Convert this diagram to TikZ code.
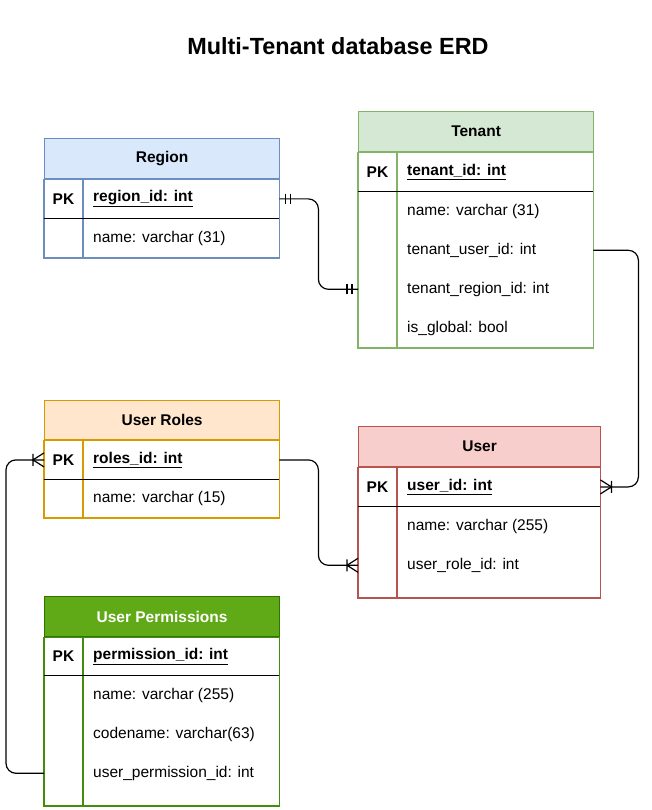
\documentclass[tikz,border=0pt]{standalone}
\usepackage{fontspec}
\setmainfont{Liberation Sans}
\usetikzlibrary{positioning,calc}
\definecolor{regionfill}{HTML}{DAE8FC}
\definecolor{regionline}{HTML}{6C8EBF}
\definecolor{tenantfill}{HTML}{D5E8D4}
\definecolor{tenantline}{HTML}{82B366}
\definecolor{rolesfill}{HTML}{FFE6CC}
\definecolor{rolesline}{HTML}{D79B00}
\definecolor{userfill}{HTML}{F8CECC}
\definecolor{userline}{HTML}{B85450}
\definecolor{permfill}{HTML}{60A917}
\definecolor{permline}{HTML}{2D7600}
\newcommand\erdfont{\fontsize{15.5}{18}\selectfont}

\tikzset{
    tablehead/.style={draw, line width=1.2pt, minimum width=235pt, minimum height=40pt,
        inner sep=0pt, anchor=north west, font=\erdfont\bfseries},
    tablerow/.style={minimum width=235pt, minimum height=39pt, inner sep=0pt, anchor=north west},
    pklabel/.style={font=\erdfont\bfseries},
    keytext/.style={font=\erdfont\bfseries, inner xsep=0pt},
    fieldtext/.style={font=\erdfont, inner xsep=0pt},
    frame/.style={line width=1.2pt},
    link/.style={line width=1.2pt, rounded corners=10pt},
    pics/mandone/.style={code={\draw[line width=1.2pt] (6,-5) -- (6,5) (11,-5) -- (11,5);}},
    pics/onemany/.style={code={\draw[line width=1.2pt] (0,-7) -- (11,0) -- (0,7) (11,-6) -- (11,6);}},
}

\begin{document}
\begin{tikzpicture}[x=1pt, y=-1pt]
    \useasboundingbox[fill=white] (0,0) rectangle (652,810);

    % Title
    \node[font=\fontsize{23.4}{28}\selectfont\bfseries] (title) at (338,46) {Multi-Tenant database ERD};

    % Region table
    \node[tablehead, fill=regionfill, draw=regionline] (region) at (44,138) {Region};
    \node[tablerow, below right=0pt of region.south west] (region-pk) {};
    \foreach \fld [count=\i] in {name: varchar (31)} {
        \node[tablerow] (region-f\i) at ($(region-pk.south west)+(0,{(\i-1)*39})$) {};
        \node[fieldtext, right=49pt of region-f\i.west] {\fld};
    }
    \draw[frame, regionline] (region-pk.north west) rectangle (region-f1.south east);
    \draw[frame, regionline] ([xshift=39pt]region-pk.north west) -- ([xshift=39pt]region-f1.south west);
    \draw[frame] (region-pk.south west) -- (region-pk.south east);
    \node[pklabel] at ([xshift=19.5pt]region-pk.west) {PK};
    \node[keytext, right=49pt of region-pk.west] {\underline{region\_id: int}};

    % Tenant table
    \node[tablehead, fill=tenantfill, draw=tenantline] (tenant) at (358,111) {Tenant};
    \node[tablerow, below right=0pt of tenant.south west] (tenant-pk) {};
    \foreach \fld [count=\i] in {name: varchar (31), tenant\_user\_id: int,
                                 tenant\_region\_id: int, is\_global: bool} {
        \node[tablerow] (tenant-f\i) at ($(tenant-pk.south west)+(0,{(\i-1)*39})$) {};
        \node[fieldtext, right=49pt of tenant-f\i.west] {\fld};
    }
    \draw[frame, tenantline] (tenant-pk.north west) rectangle (tenant-f4.south east);
    \draw[frame, tenantline] ([xshift=39pt]tenant-pk.north west) -- ([xshift=39pt]tenant-f4.south west);
    \draw[frame] (tenant-pk.south west) -- (tenant-pk.south east);
    \node[pklabel] at ([xshift=19.5pt]tenant-pk.west) {PK};
    \node[keytext, right=49pt of tenant-pk.west] {\underline{tenant\_id: int}};

    % User Roles table
    \node[tablehead, fill=rolesfill, draw=rolesline, minimum height=39pt] (roles) at (44,400) {User Roles};
    \node[tablerow, below right=0pt of roles.south west] (roles-pk) {};
    \foreach \fld [count=\i] in {name: varchar (15)} {
        \node[tablerow, minimum height=38pt] (roles-f\i) at ($(roles-pk.south west)+(0,{(\i-1)*39})$) {};
        \node[fieldtext, right=49pt of roles-f\i.west] {\fld};
    }
    \draw[frame, rolesline] (roles-pk.north west) rectangle (roles-f1.south east);
    \draw[frame, rolesline] ([xshift=39pt]roles-pk.north west) -- ([xshift=39pt]roles-f1.south west);
    \draw[frame] (roles-pk.south west) -- (roles-pk.south east);
    \node[pklabel] at ([xshift=19.5pt]roles-pk.west) {PK};
    \node[keytext, right=49pt of roles-pk.west] {\underline{roles\_id: int}};

    % User table
    \node[tablehead, fill=userfill, draw=userline, minimum width=242pt] (user) at (358,426) {User};
    \node[tablerow, minimum width=242pt, below right=0pt of user.south west] (user-pk) {};
    \foreach \fld [count=\i] in {name: varchar (255), user\_role\_id: int} {
        \node[tablerow, minimum width=242pt] (user-f\i) at ($(user-pk.south west)+(0,{(\i-1)*39})$) {};
        \node[fieldtext, right=49pt of user-f\i.west] {\fld};
    }
    \draw[frame, userline] (user-pk.north west) rectangle ($(user-f2.south east)+(0,13)$);
    \draw[frame, userline] ([xshift=39pt]user-pk.north west) -- ($(user-f2.south west)+(39,13)$);
    \draw[frame] (user-pk.south west) -- (user-pk.south east);
    \node[pklabel] at ([xshift=19.5pt]user-pk.west) {PK};
    \node[keytext, right=49pt of user-pk.west] {\underline{user\_id: int}};

    % User Permissions table
    \node[tablehead, fill=permfill, draw=permline, text=white] (perm) at (44,596) {User Permissions};
    \node[tablerow, minimum height=38pt, below right=0pt of perm.south west] (perm-pk) {};
    \foreach \fld [count=\i] in {name: varchar (255), codename: varchar(63), user\_permission\_id: int} {
        \node[tablerow] (perm-f\i) at ($(perm-pk.south west)+(0,{(\i-1)*39})$) {};
        \node[fieldtext, right=49pt of perm-f\i.west] {\fld};
    }
    \draw[frame, permline!55!permfill] (perm-pk.north west) rectangle ($(perm-f3.south east)+(0,13)$);
    \draw[frame, permline!55!permfill] ([xshift=39pt]perm-pk.north west) -- ($(perm-f3.south west)+(39,13)$);
    \draw[frame] (perm-pk.south west) -- (perm-pk.south east);
    \node[pklabel] at ([xshift=19.5pt]perm-pk.west) {PK};
    \node[keytext, right=49pt of perm-pk.west] {\underline{permission\_id: int}};

    % Relations
    \draw[link] (region-pk.east) -- ++(39,0) |- (tenant-f3.west);
    \pic at (region-pk.east) {mandone};
    \pic[rotate=180] at (tenant-f3.west) {mandone};

    \draw[link] (tenant-f2.east) -- ++(45,0) |- (user-pk.east);
    \pic at (user-pk.east) {onemany};

    \draw[link] (roles-pk.east) -- ++(39,0) |- (user-f2.west);
    \pic[rotate=180] at (user-f2.west) {onemany};

    \draw[link] (perm-f3.west) -- ++(-38,0) |- (roles-pk.west);
    \pic[rotate=180] at (roles-pk.west) {onemany};
\end{tikzpicture}
\end{document}
